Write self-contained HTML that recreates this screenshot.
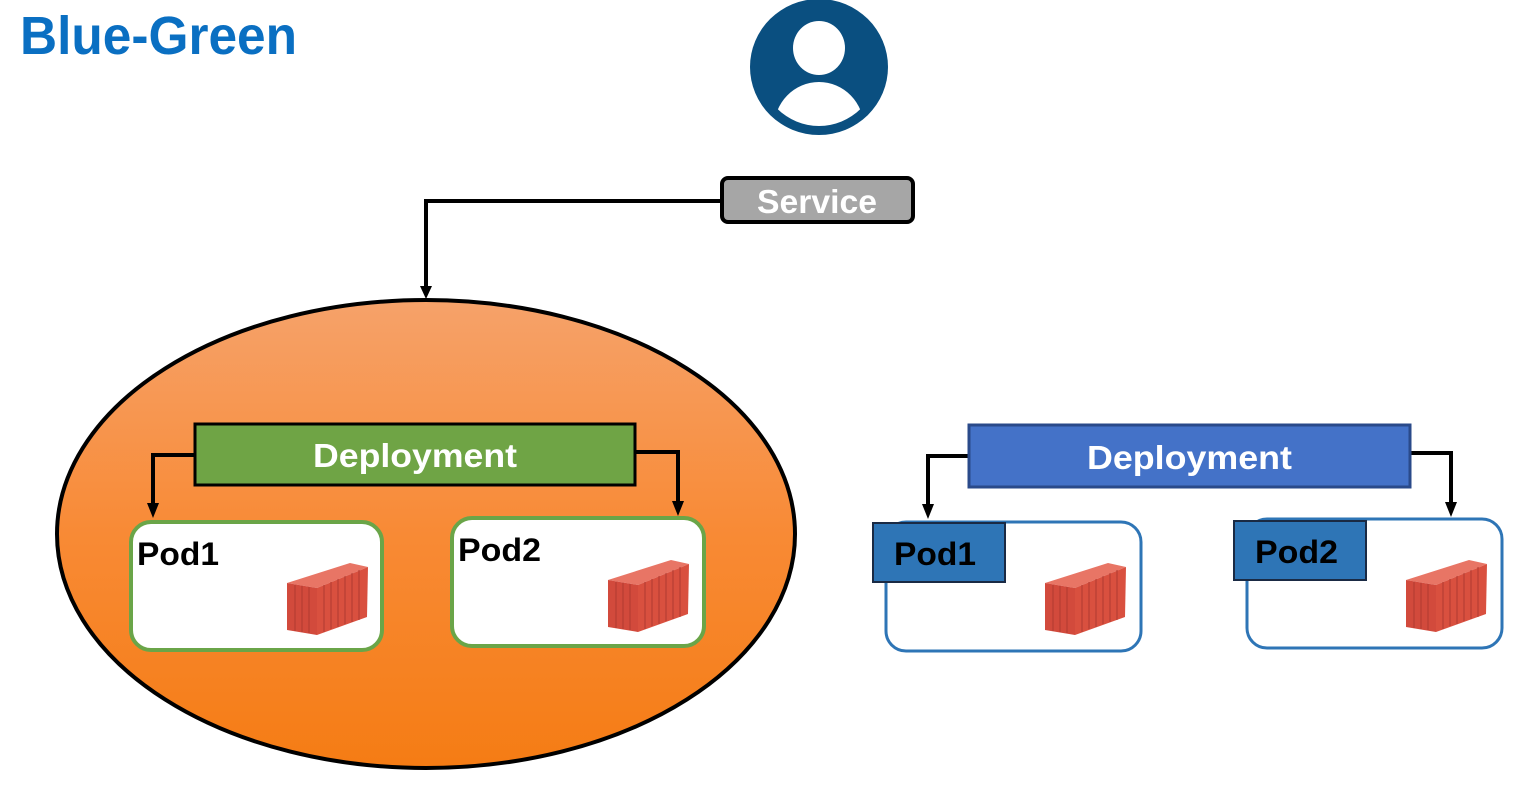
<!DOCTYPE html>
<html><head><meta charset="utf-8"><style>
html,body{margin:0;padding:0;background:#fff;}
svg{display:block}
text{font-family:"Liberation Sans",sans-serif;font-weight:bold}
</style></head><body>
<svg width="1537" height="787" viewBox="0 0 1537 787" xmlns="http://www.w3.org/2000/svg">
<defs>
<linearGradient id="og" x1="0" y1="0" x2="0" y2="1">
<stop offset="0" stop-color="#f6a26a"/><stop offset="0.5" stop-color="#f88a35"/><stop offset="1" stop-color="#f57c14"/>
</linearGradient>
<g id="cont">
<polygon points="0,20 63,0 81,4 30,25" fill="#e87565"/>
<polygon points="30,25 81,4 80,54 30,72" fill="#d9503f"/>
<polygon points="0,20 30,25 30,72 0,67" fill="#d24a3c"/>
<g stroke="#b03a30" stroke-width="1">
<line x1="37" y1="22" x2="37" y2="69"/><line x1="44" y1="19" x2="44" y2="66"/><line x1="51" y1="16" x2="51" y2="64"/><line x1="58" y1="13" x2="58" y2="61"/><line x1="65" y1="10" x2="65" y2="59"/><line x1="72" y1="7" x2="72" y2="57"/>
<line x1="8" y1="22" x2="8" y2="68"/><line x1="15" y1="23" x2="15" y2="69"/><line x1="22" y1="24" x2="22" y2="70"/>
</g>
</g>
<clipPath id="uc"><circle cx="819" cy="67" r="59"/></clipPath>
</defs>
<text x="20" y="54" font-size="54" fill="#0a6fc2" textLength="277" lengthAdjust="spacingAndGlyphs">Blue-Green</text>
<!-- user -->
<ellipse cx="819" cy="67" rx="69" ry="68" fill="#0a4f80"/>
<ellipse cx="819" cy="48" rx="26" ry="27" fill="#fff"/>
<g clip-path="url(#uc)"><ellipse cx="819" cy="128" rx="45" ry="46" fill="#fff"/></g>
<!-- service -->
<polyline points="721,201 426,201 426,288" fill="none" stroke="#000" stroke-width="4"/>
<path d="M420,286 L432,286 L426,299 Z" fill="#000"/>
<rect x="722" y="178" width="191" height="44" rx="6" fill="#a6a6a6" stroke="#000" stroke-width="4"/>
<text x="757" y="213" font-size="33" fill="#fff" textLength="120" lengthAdjust="spacingAndGlyphs">Service</text>
<!-- ellipse -->
<ellipse cx="426" cy="534" rx="369" ry="234" fill="url(#og)" stroke="#000" stroke-width="4"/>
<polyline points="194,455 153,455 153,505" fill="none" stroke="#000" stroke-width="4"/>
<path d="M147,503 L159,503 L153,518 Z" fill="#000"/>
<polyline points="635,452 678,452 678,503" fill="none" stroke="#000" stroke-width="4"/>
<path d="M672,501 L684,501 L678,516 Z" fill="#000"/>
<rect x="195" y="424" width="440" height="61" fill="#6fa445" stroke="#000" stroke-width="3"/>
<text x="313" y="467" font-size="33" fill="#fff" textLength="204" lengthAdjust="spacingAndGlyphs">Deployment</text>
<rect x="131" y="522" width="251" height="128" rx="20" fill="#fff" stroke="#6aa548" stroke-width="4"/>
<text x="137" y="565" font-size="32" fill="#000" textLength="82" lengthAdjust="spacingAndGlyphs">Pod1</text>
<use href="#cont" x="287" y="563"/>
<rect x="452" y="518" width="252" height="128" rx="20" fill="#fff" stroke="#6aa548" stroke-width="4"/>
<text x="458" y="561" font-size="32" fill="#000" textLength="83" lengthAdjust="spacingAndGlyphs">Pod2</text>
<use href="#cont" x="608" y="560"/>
<!-- blue -->
<polyline points="968,456 928,456 928,506" fill="none" stroke="#000" stroke-width="4"/>
<path d="M922,504 L934,504 L928,519 Z" fill="#000"/>
<polyline points="1410,453 1451,453 1451,504" fill="none" stroke="#000" stroke-width="4"/>
<path d="M1445,502 L1457,502 L1451,517 Z" fill="#000"/>
<rect x="969" y="425" width="441" height="62" fill="#4472c8" stroke="#2a4a8a" stroke-width="3"/>
<text x="1087" y="469" font-size="33" fill="#fff" textLength="205" lengthAdjust="spacingAndGlyphs">Deployment</text>
<rect x="886" y="522" width="255" height="129" rx="20" fill="#fff" stroke="#2e75b6" stroke-width="3"/>
<rect x="873" y="523" width="132" height="59" fill="#2e75b6" stroke="#1a2a44" stroke-width="2"/>
<text x="894" y="565" font-size="32" fill="#000" textLength="82" lengthAdjust="spacingAndGlyphs">Pod1</text>
<use href="#cont" x="1045" y="563"/>
<rect x="1247" y="519" width="255" height="129" rx="20" fill="#fff" stroke="#2e75b6" stroke-width="3"/>
<rect x="1234" y="521" width="132" height="59" fill="#2e75b6" stroke="#1a2a44" stroke-width="2"/>
<text x="1255" y="563" font-size="32" fill="#000" textLength="83" lengthAdjust="spacingAndGlyphs">Pod2</text>
<use href="#cont" x="1406" y="560"/>
</svg>
</body></html>
